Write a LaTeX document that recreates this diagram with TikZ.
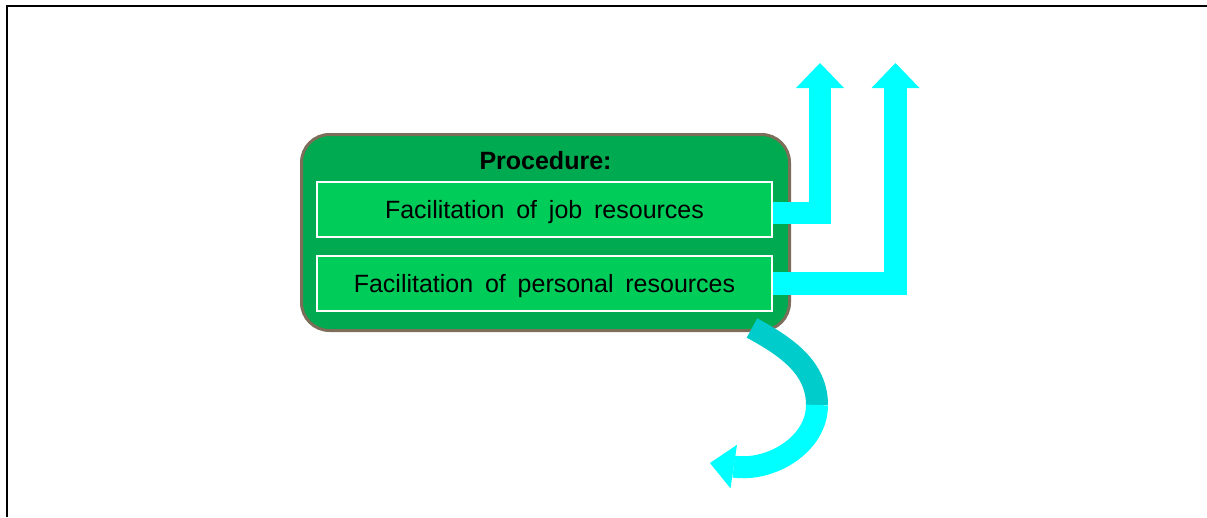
\documentclass[tikz,border=0pt]{standalone}
\usepackage{fontspec}
\setmainfont{Liberation Sans}[WordSpace=1.7]
\usepackage{xcolor}
\usetikzlibrary{positioning, arrows.meta}

\definecolor{procgreen}{RGB}{0,170,80}
\definecolor{itemgreen}{RGB}{0,204,90}
\definecolor{procedge}{RGB}{125,110,90}
\definecolor{flowcyan}{RGB}{0,255,255}
\definecolor{turncyan}{RGB}{0,204,204}

\begin{document}
\begin{tikzpicture}[x=1pt, y=1pt,
  procbox/.style={draw=procedge, fill=procgreen, line width=3pt,
    rounded corners=28pt, minimum width=488pt, minimum height=196pt},
  itembox/.style={draw=white, fill=itemgreen, line width=2pt,
    minimum width=455pt, minimum height=55pt, inner sep=0pt,
    text height=18pt, text depth=0pt, font=\fontsize{25}{30}\selectfont},
  uparrow/.style={draw=flowcyan, line width=22.5pt, line join=miter,
    -{Triangle[length=25pt, width=48pt, line width=0pt]}},
  loopband/.style={line width=22pt}
]
  \useasboundingbox (0,0) rectangle (1207,-517);
  \draw[line width=2.5pt, black] (7,-517) -- (7,-6) -- (1207,-6);

  % procedure box
  \node[procbox] (proc) at (545.5,-232.5) {};
  \node[anchor=base, font=\bfseries\fontsize{25}{30}\selectfont]
    (title) at (545.5,-169) {Procedure:};
  \node[itembox] (job) at (544.5,-209.5) {Facilitation of job resources};
  \node[itembox, below=17pt of job] (pers) {Facilitation of personal resources};

  % arrows out
  \coordinate (jobup) at (820,-63);
  \coordinate (persup) at (895.5,-63);
  \draw[uparrow] ([yshift=-3.5pt]job.east) -| (jobup);
  \draw[uparrow] (pers.east) -| (persup);

  % curved arrow below
  \coordinate (loopstart) at (752,-328);
  \coordinate (loopturn) at (817,-405);
  \coordinate (looptip) at (710,-463);
  \draw[loopband, turncyan]
      (loopstart) .. controls (787,-347) and (817,-368) .. (loopturn);
  \draw[loopband, flowcyan, -{Triangle[length=24pt, width=44pt, line width=0pt]}]
      (loopturn) .. controls (817,-445) and (770,-472) .. (looptip);
\end{tikzpicture}
\end{document}
